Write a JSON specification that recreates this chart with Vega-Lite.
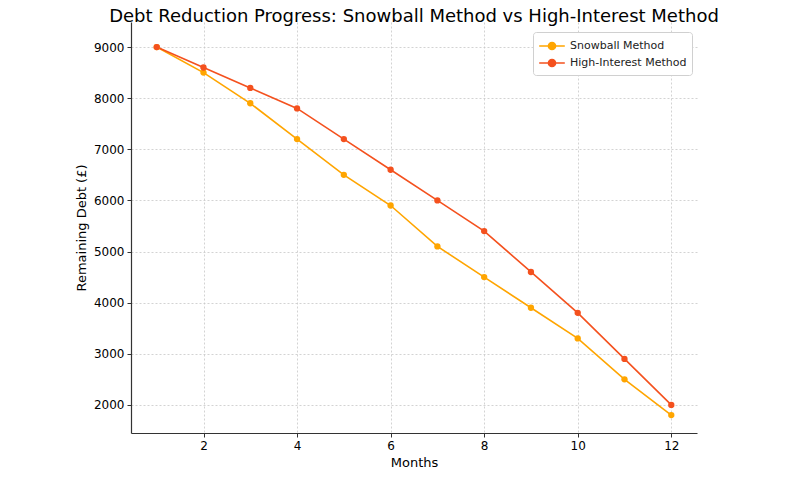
{
  "$schema": "https://vega.github.io/schema/vega-lite/v6.json",
  "width": 566,
  "height": 411,
  "autosize": "none",
  "padding": {"left": 131, "top": 22, "right": 98, "bottom": 44},
  "background": "white",
  "config": {
    "font": "DejaVu Sans",
    "view": {"stroke": null}
  },
  "title": {
    "text": "Debt Reduction Progress: Snowball Method vs High-Interest Method",
    "fontSize": 18,
    "fontWeight": "normal",
    "color": "#000000",
    "anchor": "middle",
    "offset": -4,
    "font": "DejaVu Sans"
  },
  "data": {
    "values": [
      {"month": 1, "method": "Snowball Method", "debt": 9000},
      {"month": 2, "method": "Snowball Method", "debt": 8500},
      {"month": 3, "method": "Snowball Method", "debt": 7900},
      {"month": 4, "method": "Snowball Method", "debt": 7200},
      {"month": 5, "method": "Snowball Method", "debt": 6500},
      {"month": 6, "method": "Snowball Method", "debt": 5900},
      {"month": 7, "method": "Snowball Method", "debt": 5100},
      {"month": 8, "method": "Snowball Method", "debt": 4500},
      {"month": 9, "method": "Snowball Method", "debt": 3900},
      {"month": 10, "method": "Snowball Method", "debt": 3300},
      {"month": 11, "method": "Snowball Method", "debt": 2500},
      {"month": 12, "method": "Snowball Method", "debt": 1800},
      {"month": 1, "method": "High-Interest Method", "debt": 9000},
      {"month": 2, "method": "High-Interest Method", "debt": 8600},
      {"month": 3, "method": "High-Interest Method", "debt": 8200},
      {"month": 4, "method": "High-Interest Method", "debt": 7800},
      {"month": 5, "method": "High-Interest Method", "debt": 7200},
      {"month": 6, "method": "High-Interest Method", "debt": 6600},
      {"month": 7, "method": "High-Interest Method", "debt": 6000},
      {"month": 8, "method": "High-Interest Method", "debt": 5400},
      {"month": 9, "method": "High-Interest Method", "debt": 4600},
      {"month": 10, "method": "High-Interest Method", "debt": 3800},
      {"month": 11, "method": "High-Interest Method", "debt": 2900},
      {"month": 12, "method": "High-Interest Method", "debt": 2000}
    ]
  },
  "encoding": {
    "x": {
      "field": "month",
      "type": "quantitative",
      "title": "Months",
      "scale": {"domain": [0.45, 12.55], "nice": false, "zero": false},
      "axis": {
        "values": [2, 4, 6, 8, 10, 12],
        "grid": true,
        "gridColor": "#c8c8c8",
        "gridDash": [2, 2],
        "gridWidth": 0.8,
        "domainColor": "#333333",
        "domainWidth": 1.2,
        "tickColor": "#333333",
        "tickSize": 4,
        "labelFontSize": 12,
        "labelColor": "#000000",
        "labelPadding": 3,
        "titleFontSize": 13,
        "titleFontWeight": "normal",
        "titleColor": "#000000",
        "titlePadding": 5
      }
    },
    "y": {
      "field": "debt",
      "type": "quantitative",
      "title": "Remaining Debt (£)",
      "scale": {"domain": [1450, 9490], "nice": false, "zero": false},
      "axis": {
        "values": [2000, 3000, 4000, 5000, 6000, 7000, 8000, 9000],
        "format": "d",
        "grid": true,
        "gridColor": "#c8c8c8",
        "gridDash": [2, 2],
        "gridWidth": 0.8,
        "domainColor": "#333333",
        "domainWidth": 1.2,
        "tickColor": "#333333",
        "tickSize": 4,
        "labelFontSize": 12,
        "labelColor": "#000000",
        "labelPadding": 3,
        "titleFontSize": 13,
        "titleFontWeight": "normal",
        "titleColor": "#000000",
        "titlePadding": 5
      }
    },
    "color": {
      "field": "method",
      "type": "nominal",
      "sort": ["Snowball Method", "High-Interest Method"],
      "scale": {
        "domain": ["Snowball Method", "High-Interest Method"],
        "range": ["#FFA500", "#F4511E"]
      },
      "legend": {
        "title": null,
        "orient": "none",
        "legendX": 402,
        "legendY": 10,
        "labelFontSize": 11,
        "labelColor": "#222222",
        "labelOffset": 9,
        "symbolType": "M-1.6,0L1.6,0M-0.45,0a0.45,0.45 0 1,0 0.9,0a0.45,0.45 0 1,0 -0.9,0",
        "symbolSize": 256,
        "symbolStrokeWidth": 1.5,
        "symbolOffset": 5,
        "rowPadding": 1,
        "padding": 5,
        "strokeColor": "#d0d0d0",
        "fillColor": "white",
        "cornerRadius": 3
      }
    }
  },
  "layer": [
    {"mark": {"type": "line", "strokeWidth": 1.6}},
    {"mark": {"type": "point", "filled": true, "size": 40, "opacity": 1}}
  ]
}
